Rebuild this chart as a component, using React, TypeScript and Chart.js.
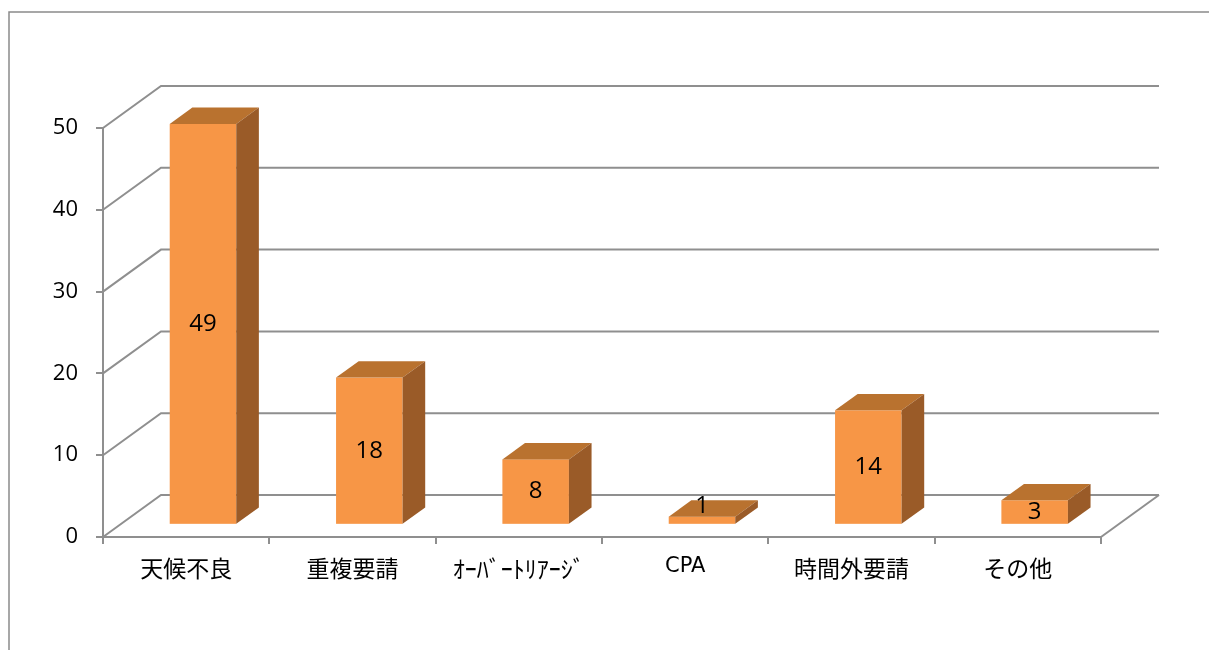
import React, { useEffect, useRef } from "react";
import { Chart, registerables } from "chart.js";

Chart.register(...registerables);

const categories = ["天候不良", "重複要請", "ｵｰﾊﾞｰﾄﾘｱｰｼﾞ", "CPA", "時間外要請", "その他"];
const counts = [49, 18, 8, 1, 14, 3];
const yTicks = [0, 10, 20, 30, 40, 50];

const DEPTH_X = 58;
const DEPTH_Y = -42;
const BAR_FRONT = 0.29;
const BAR_BACK = 0.68;
const FACE = "#F79646";
const TOP = "#B9722F";
const SIDE = "#9A5B28";
const GRID = "#8f8f8f";
const FONT = "'Noto Sans CJK JP', 'Noto Sans', sans-serif";
const NUM_FONT = "'Open Sans', 'Noto Sans', sans-serif";

const threeD = {
  id: "threeD",
  beforeDraw(chart: any) {
    const ctx = chart.ctx;
    ctx.save();
    ctx.strokeStyle = "#8a8a8a";
    ctx.lineWidth = 1.5;
    ctx.beginPath();
    ctx.moveTo(9, 660);
    ctx.lineTo(9, 12);
    ctx.lineTo(1220, 12);
    ctx.stroke();
    ctx.restore();
  },
  beforeDatasetsDraw(chart: any) {
    const ctx = chart.ctx;
    const ys = chart.scales.y;
    const area = chart.chartArea;
    ctx.save();
    ctx.strokeStyle = GRID;
    ctx.lineWidth = 2;
    ctx.lineCap = "butt";
    ys.ticks.forEach((t: any) => {
      const yf = ys.getPixelForValue(t.value);
      ctx.beginPath();
      ctx.moveTo(area.left, yf);
      ctx.lineTo(area.left + DEPTH_X, yf + DEPTH_Y);
      ctx.lineTo(area.right + DEPTH_X, yf + DEPTH_Y);
      ctx.stroke();
    });
    const y0 = ys.getPixelForValue(0);
    ctx.beginPath();
    ctx.moveTo(area.right, y0);
    ctx.lineTo(area.right + DEPTH_X, y0 + DEPTH_Y);
    ctx.stroke();
    ctx.restore();
  },
  afterDatasetsDraw(chart: any) {
    const ctx = chart.ctx;
    const meta = chart.getDatasetMeta(0);
    const ddx = DEPTH_X * (BAR_BACK - BAR_FRONT);
    const ddy = DEPTH_Y * (BAR_BACK - BAR_FRONT);
    const ox = DEPTH_X * BAR_FRONT;
    const oy = DEPTH_Y * BAR_FRONT;
    ctx.save();
    meta.data.forEach((el: any, i: number) => {
      const p = el.getProps(["x", "y", "base", "width"], true);
      const L = p.x - p.width / 2 + ox;
      const R = L + p.width;
      const T = p.y + oy;
      const B = p.base + oy;
      ctx.fillStyle = FACE;
      ctx.fillRect(L, T, R - L, B - T);
      ctx.fillStyle = TOP;
      ctx.beginPath();
      ctx.moveTo(L, T);
      ctx.lineTo(R, T);
      ctx.lineTo(R + ddx, T + ddy);
      ctx.lineTo(L + ddx, T + ddy);
      ctx.closePath();
      ctx.fill();
      ctx.fillStyle = SIDE;
      ctx.beginPath();
      ctx.moveTo(R, T);
      ctx.lineTo(R + ddx, T + ddy);
      ctx.lineTo(R + ddx, B + ddy);
      ctx.lineTo(R, B);
      ctx.closePath();
      ctx.fill();
      const h = B - T;
      let ly = (T + B) / 2;
      if (h < 16) ly = T - 10;
      ctx.fillStyle = "#000";
      ctx.font = `24px ${NUM_FONT}`;
      ctx.textAlign = "center";
      ctx.textBaseline = "middle";
      ctx.fillText(String(counts[i]), (L + R) / 2, ly);
    });
    ctx.restore();
  },
};

export default function App() {
  const ref = useRef<HTMLCanvasElement | null>(null);
  useEffect(() => {
    document.body.style.margin = "0";
    const canvas = ref.current!;
    const chart = new Chart(canvas, {
      type: "bar",
      data: {
        labels: categories,
        datasets: [
          {
            data: counts,
            backgroundColor: "rgba(0,0,0,0)",
            borderWidth: 0,
            categoryPercentage: 1,
            barPercentage: 0.4,
          },
        ],
      },
      options: {
        responsive: false,
        animation: false,
        devicePixelRatio: 1,
        layout: { padding: { left: 0, top: 128, right: 108, bottom: 0 } },
        plugins: { legend: { display: false }, tooltip: { enabled: false } },
        scales: {
          x: {
            offset: true,
            grid: {
              offset: true,
              drawOnChartArea: false,
              drawTicks: true,
              tickLength: 7,
              color: GRID,
              lineWidth: 2,
            },
            border: { color: GRID, width: 2 },
            ticks: {
              color: "#000",
              padding: 10,
              maxRotation: 0,
              autoSkip: false,
              font: (c: any) =>
                c.index === 3
                  ? { family: "'DejaVu Sans', sans-serif", size: 21 }
                  : { family: FONT, size: c.index === 2 ? 24 : 23 },
            },
            afterFit: (s: any) => {
              s.height = 113;
            },
          },
          y: {
            min: 0,
            max: 50,
            afterBuildTicks: (s: any) => {
              s.ticks = yTicks.map((v) => ({ value: v }));
            },
            grid: {
              drawOnChartArea: false,
              drawTicks: true,
              tickLength: 7,
              color: GRID,
              lineWidth: 2,
            },
            border: { color: GRID, width: 2 },
            ticks: {
              color: "#000",
              padding: 18,
              font: { family: NUM_FONT, size: 22 },
            },
            afterFit: (s: any) => {
              s.width = 103;
            },
          },
        },
      },
      plugins: [threeD],
    });
    return () => chart.destroy();
  }, []);
  return (
    <canvas
      ref={ref}
      width={1209}
      height={650}
      style={{ position: "fixed", left: 0, top: 0, width: 1209, height: 650, display: "block" }}
    />
  );
}
